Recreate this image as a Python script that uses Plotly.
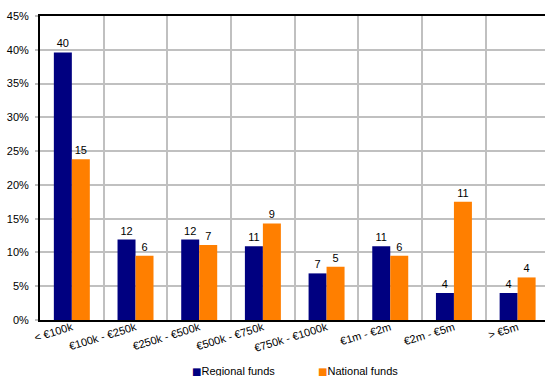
import plotly.graph_objects as go

categories = ["< €100k", "€100k - €250k", "€250k - €500k", "€500k - €750k",
              "€750k - €1000k", "€1m - €2m", "€2m - €5m", "> €5m"]
regional_counts = [40, 12, 12, 11, 7, 11, 4, 4]
national_counts = [15, 6, 7, 9, 5, 6, 11, 4]
regional_share = [0.396, 0.119, 0.119, 0.109, 0.069, 0.109, 0.040, 0.040]
national_share = [0.238, 0.095, 0.111, 0.143, 0.079, 0.095, 0.175, 0.063]
series_names = ["Regional funds", "National funds"]

font = dict(family="Liberation Sans, Arial, sans-serif", size=11, color="black")
navy = "#000080"
orange = "#FF7F00"

fig = go.Figure()
fig.add_trace(go.Bar(name=series_names[0], x=categories, y=regional_share,
                     text=regional_counts, textposition="outside",
                     marker=dict(color=navy, line=dict(width=0)),
                     textfont=font, cliponaxis=False, showlegend=False))
fig.add_trace(go.Bar(name=series_names[1], x=categories, y=national_share,
                     text=national_counts, textposition="outside",
                     marker=dict(color=orange, line=dict(width=0)),
                     textfont=font, cliponaxis=False, showlegend=False))

# legend drawn as text with coloured square swatches
for name, col, xp in [(series_names[0], navy, 0.297), (series_names[1], orange, 0.547)]:
    fig.add_annotation(
        text=f"<span style='color:{col};font-family:DejaVu Sans;font-size:10px'>■</span>{name}",
        xref="paper", yref="paper", x=xp, y=-0.168,
        xanchor="left", yanchor="middle", showarrow=False, font=font)

fig.update_layout(
    width=545, height=376,
    margin=dict(l=40, r=0, t=16, b=56, autoexpand=False),
    paper_bgcolor="white", plot_bgcolor="white",
    font=font,
    barmode="group", bargap=0.435, bargroupgap=0,
    showlegend=False,
)
fig.update_xaxes(type="category", tickson="boundaries", showgrid=True,
                 range=[-0.5, 7.43], automargin=False,
                 gridcolor="#c0c0c0", gridwidth=2, tickangle=-17,
                 showline=True, linecolor="black", linewidth=2, mirror=True,
                 ticks="", tickfont=font, ticklabelstandoff=-5)
fig.update_yaxes(range=[0, 0.45], dtick=0.05, tickformat=".0%", automargin=False,
                 showgrid=True, gridcolor="#c0c0c0", gridwidth=2,
                 showline=True, linecolor="black", linewidth=2,
                 ticks="outside", ticklen=3, tickcolor="#c0c0c0", tickwidth=2,
                 ticklabelstandoff=4,
                 zeroline=False, tickfont=font)

fig.write_html("out.html")
